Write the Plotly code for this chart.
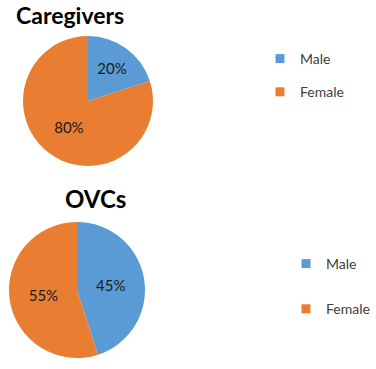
import plotly.graph_objects as go

labels = ["Male", "Female"]
caregivers_values = [20, 80]
ovcs_values = [45, 55]
titles = ["Caregivers", "OVCs"]
colors = ["#5B9BD5", "#E97D32"]

FONT = "Lato, 'Open Sans', sans-serif"
W, H = 376, 369

def px_x(a, b):
    return [a / W, b / W]

def px_y(top, bottom):
    return [1 - bottom / H, 1 - top / H]

fig = go.Figure()

fig.add_trace(go.Pie(
    labels=labels, values=caregivers_values, sort=False, direction="clockwise",
    rotation=0, marker=dict(colors=colors, line=dict(width=0)),
    textinfo="percent", textposition="inside", insidetextorientation="horizontal",
    textfont=dict(family=FONT, size=15, color="#1a1a1a"),
    domain=dict(x=px_x(23, 153), y=px_y(36, 166)),
    showlegend=False, hoverinfo="label+percent"))

fig.add_trace(go.Pie(
    labels=labels, values=ovcs_values, sort=False, direction="clockwise",
    rotation=0, marker=dict(colors=colors, line=dict(width=0)),
    textinfo="percent", textposition="inside", insidetextorientation="horizontal",
    textfont=dict(family=FONT, size=15, color="#1a1a1a"),
    domain=dict(x=px_x(8, 146), y=px_y(222, 358)),
    showlegend=False, hoverinfo="label+percent"))

# legend entries
for i, lab in enumerate(labels):
    fig.add_trace(go.Scatter(x=[None], y=[None], mode="markers", name=lab,
                             marker=dict(symbol="square", size=9, color=colors[i]),
                             legend="legend", legendgroup="a" + lab, showlegend=True))
for i, lab in enumerate(labels):
    fig.add_trace(go.Scatter(x=[None], y=[None], mode="markers", name=lab,
                             marker=dict(symbol="square", size=9, color=colors[i]),
                             legend="legend2", legendgroup="b" + lab, showlegend=True))

fig.update_layout(
    width=W, height=H, margin=dict(l=0, r=0, t=0, b=0),
    paper_bgcolor="white", plot_bgcolor="white",
    font=dict(family=FONT, color="#404040"),
    xaxis=dict(visible=False), yaxis=dict(visible=False),
    legend=dict(x=260 / W, y=1 - 43 / H, xanchor="left", yanchor="top",
                tracegroupgap=12, font=dict(size=14, family=FONT, color="#404040"),
                bgcolor="rgba(0,0,0,0)"),
    legend2=dict(x=286 / W, y=1 - 248 / H, xanchor="left", yanchor="top",
                 tracegroupgap=24, font=dict(size=14, family=FONT, color="#404040"),
                 bgcolor="rgba(0,0,0,0)"),
    annotations=[
        dict(text="<b>" + titles[0] + "</b>", x=70 / W, y=1 - 15 / H, xref="paper", yref="paper",
             xanchor="center", yanchor="middle",
             showarrow=False, font=dict(size=23, family=FONT, color="black")),
        dict(text="<b>" + titles[1] + "</b>", x=95 / W, y=1 - 198 / H, xref="paper", yref="paper",
             xanchor="center", yanchor="middle",
             showarrow=False, font=dict(size=24, family=FONT, color="black")),
    ],
)

fig.write_html("out.html", config={"displayModeBar": False},
               post_script="document.body.style.margin='0';")
